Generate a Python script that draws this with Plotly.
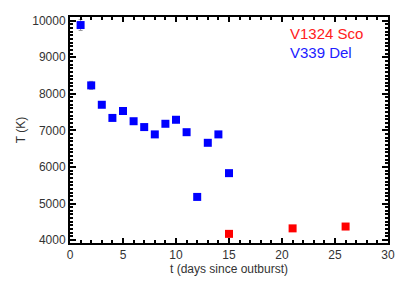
import plotly.graph_objects as go

# V339 Del
del_t = [1, 2, 3, 4, 5, 6, 7, 8, 9, 10, 11, 12, 13, 14, 15]
del_T = [9880, 8230, 7700, 7340, 7530, 7250, 7090, 6890, 7180, 7290, 6950, 5180, 6660, 6890, 5830]
del_err = [150, 110, 60, 50, 70, 50, 50, 50, 50, 80, 50, 50, 50, 50, 50]
# V1324 Sco
sco_t = [15, 21, 26]
sco_T = [4170, 4320, 4370]
sco_err = [40, 40, 40]

x_ticks = [0, 5, 10, 15, 20, 25, 30]
y_ticks = [4000, 5000, 6000, 7000, 8000, 9000, 10000]

fig = go.Figure()
fig.add_trace(go.Scatter(
    x=del_t, y=del_T, mode="markers",
    marker=dict(symbol="square", size=8, color="#0000ff"),
    error_y=dict(type="data", array=del_err, color="#999999", thickness=1, width=2),
    showlegend=False))
fig.add_trace(go.Scatter(
    x=sco_t, y=sco_T, mode="markers",
    marker=dict(symbol="square", size=8, color="#ff0000"),
    error_y=dict(type="data", array=sco_err, color="#999999", thickness=1, width=2),
    showlegend=False))

fig.add_annotation(x=0.684, y=0.929, xref="paper", yref="paper", xanchor="left", yanchor="middle",
                   text="V1324 Sco", showarrow=False,
                   font=dict(color="#ff2020", size=15, family="Liberation Sans"))
fig.add_annotation(x=0.684, y=0.845, xref="paper", yref="paper", xanchor="left", yanchor="middle",
                   text="V339 Del", showarrow=False,
                   font=dict(color="#2020ff", size=15, family="Liberation Sans"))

axis_common = dict(showline=True, linecolor="black", linewidth=2, mirror="ticks",
                   ticks="inside", tickcolor="black", tickwidth=2, showgrid=False,
                   zeroline=False, automargin=False, tickformat="d",
                   tickfont=dict(size=12, color="#333333", family="Liberation Sans"))

fig.update_xaxes(range=[0, 30], tickvals=x_ticks, ticklen=5,
                 minor=dict(ticks="inside", dtick=1, ticklen=3, tickcolor="black", tickwidth=1.5),
                 title=dict(text="t (days since outburst)", font=dict(size=12, color="#333333", family="Liberation Sans"), standoff=2),
                 **axis_common)
fig.update_yaxes(range=[3920, 10100], tickvals=y_ticks, ticklen=6,
                 minor=dict(ticks="inside", dtick=100, ticklen=3, tickcolor="black", tickwidth=1.5),
                 title=dict(text="T (K)", font=dict(size=12, color="#333333", family="Liberation Sans"), standoff=4),
                 **axis_common)

fig.update_layout(width=407, height=282, margin=dict(l=62, r=27, t=9, b=47),
                  plot_bgcolor="white", paper_bgcolor="white")
fig.write_html("out.html")
